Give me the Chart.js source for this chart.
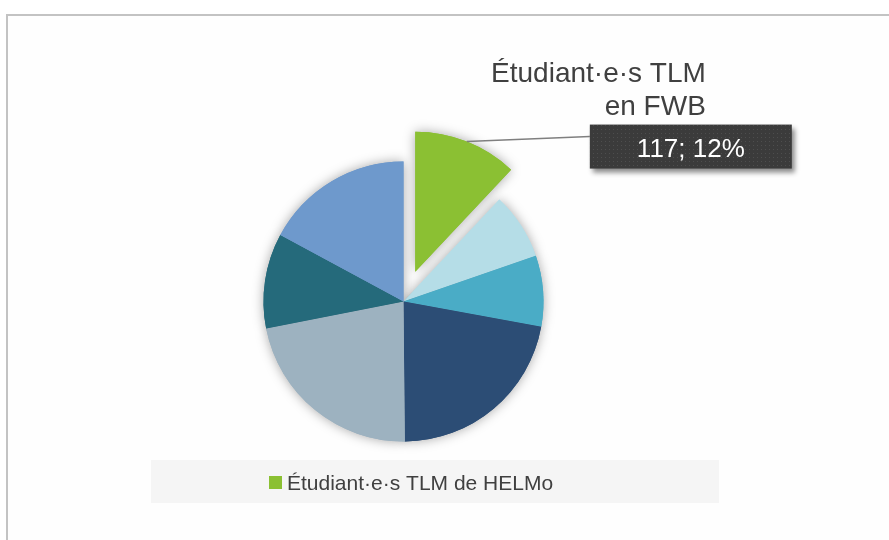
<!DOCTYPE html>
<html>
<head>
<meta charset="utf-8">
<script src="https://cdn.jsdelivr.net/npm/chart.js@4"></script>
<style>
  html, body { margin: 0; padding: 0; background: #fff; }
  #wrap { position: relative; width: 889px; height: 540px; overflow: hidden; }
  #frame { position: absolute; left: 6px; top: 14px; width: 1000px; height: 1000px;
           border-top: 2px solid #c3c3c3; border-left: 2px solid #c3c3c3; background: #fefefe; }
  canvas { position: absolute; left: 0; top: 0; }
</style>
</head>
<body>
<div id="wrap">
  <div id="frame"></div>
  <canvas id="myChart" width="889" height="540"></canvas>
</div>
<script>
// données
const categories = ['Étudiant·e·s TLM en FWB', 'Catégorie 2', 'Catégorie 3', 'Catégorie 4', 'Catégorie 5', 'Catégorie 6', 'Catégorie 7']
const values = [117, 75, 80, 214, 215, 107, 167]
const seriesName = 'Étudiant·e·s TLM de HELMo'
const labelLines = ['Étudiant·e·s TLM', 'en FWB']

const colors = ['#8bc033', '#b5dde7', '#4aacc6', '#2c4d75', '#9db2c0', '#256a7b', '#6e99cc']
const font = "'Liberation Sans', Arial, sans-serif"
const explode = 32 // décalage du secteur vert (px)

// secteur vert détaché : simple translation, sans changer son rayon
const explodePlugin = {
  id: 'explode',
  afterUpdate (chart) {
    const arc = chart.getDatasetMeta(0).data[0]
    if (arc._exploded) return
    const baseDraw = arc.draw
    arc.draw = function (ctx) {
      const mid = (this.startAngle + this.endAngle) / 2
      ctx.save()
      ctx.translate(Math.cos(mid) * explode, Math.sin(mid) * explode)
      baseDraw.call(this, ctx)
      ctx.restore()
    }
    arc._exploded = true
  }
}

// ombre douce sous les secteurs (dessinée avant, les secteurs recouvrent les ombres internes)
const shadowPlugin = {
  id: 'pieShadow',
  beforeDatasetsDraw (chart) {
    const ctx = chart.ctx
    ctx.save()
    ctx.shadowColor = 'rgba(0,0,0,0.35)'
    ctx.shadowBlur = 12
    chart.getDatasetMeta(0).data.forEach(arc => arc.draw(ctx))
    ctx.restore()
  }
}

// étiquette du secteur vert + légende
const labelPlugin = {
  id: 'labels',
  afterDraw (chart) {
    const ctx = chart.ctx
    const meta = chart.getDatasetMeta(0)
    const arc = meta.data[0]
    const total = values.reduce((a, b) => a + b, 0)
    const pct = Math.round(values[0] / total * 100)
    const mid = (arc.startAngle + arc.endAngle) / 2
    const r = arc.outerRadius + explode
    const sx = arc.x + Math.cos(mid) * r
    const sy = arc.y + Math.sin(mid) * r

    const bx = sx + 123
    const by = sy - 17
    const bw = 202
    const bh = 44

    // ligne de rappel
    ctx.save()
    ctx.strokeStyle = '#7f7f7f'
    ctx.lineWidth = 1.5
    ctx.beginPath()
    ctx.moveTo(sx, sy)
    ctx.lineTo(bx, by + 12)
    ctx.stroke()
    ctx.restore()

    // boîte sombre à motif pointillé
    const pc = document.createElement('canvas')
    pc.width = 4; pc.height = 4
    const p = pc.getContext('2d')
    p.fillStyle = '#3b3b3b'
    p.fillRect(0, 0, 4, 4)
    p.fillStyle = '#4e4e4e'
    p.fillRect(1, 1, 1, 1)
    ctx.save()
    ctx.shadowColor = 'rgba(0,0,0,0.45)'
    ctx.shadowBlur = 5
    ctx.shadowOffsetX = 3
    ctx.shadowOffsetY = 4
    ctx.fillStyle = ctx.createPattern(pc, 'repeat')
    ctx.fillRect(bx, by, bw, bh)
    ctx.restore()

    ctx.save()
    ctx.fillStyle = '#ffffff'
    ctx.font = '26px ' + font
    ctx.textAlign = 'center'
    ctx.textBaseline = 'alphabetic'
    ctx.fillText(values[0] + '; ' + pct + '%', bx + bw / 2, by + 32)

    // nom de la catégorie au-dessus
    ctx.fillStyle = '#404040'
    ctx.font = '28px ' + font
    ctx.textAlign = 'right'
    ctx.fillText(labelLines[0], bx + 116, by - 43)
    ctx.fillText(labelLines[1], bx + 116, by - 10)
    ctx.restore()

    // légende
    ctx.save()
    ctx.fillStyle = '#f5f5f5'
    ctx.fillRect(151, 460, 568, 43)
    ctx.fillStyle = colors[0]
    ctx.fillRect(269, 476, 13, 13)
    ctx.fillStyle = '#404040'
    ctx.font = '21px ' + font
    ctx.textAlign = 'left'
    ctx.fillText(seriesName, 287, 490)
    ctx.restore()
  }
}

const ctx = document.getElementById('myChart').getContext('2d')

const myChart = new Chart(ctx, {
  type: 'pie',
  data: {
    labels: categories,
    datasets: [{
      label: seriesName,
      data: values,
      backgroundColor: colors,
      borderWidth: 0
    }]
  },
  options: {
    responsive: false,
    animation: false,
    radius: 140,
    layout: { padding: { left: 0, right: 82, top: 63, bottom: 0 } },
    plugins: {
      legend: { display: false },
      tooltip: { enabled: false }
    }
  },
  plugins: [explodePlugin, shadowPlugin, labelPlugin]
})
</script>
</body>
</html>
